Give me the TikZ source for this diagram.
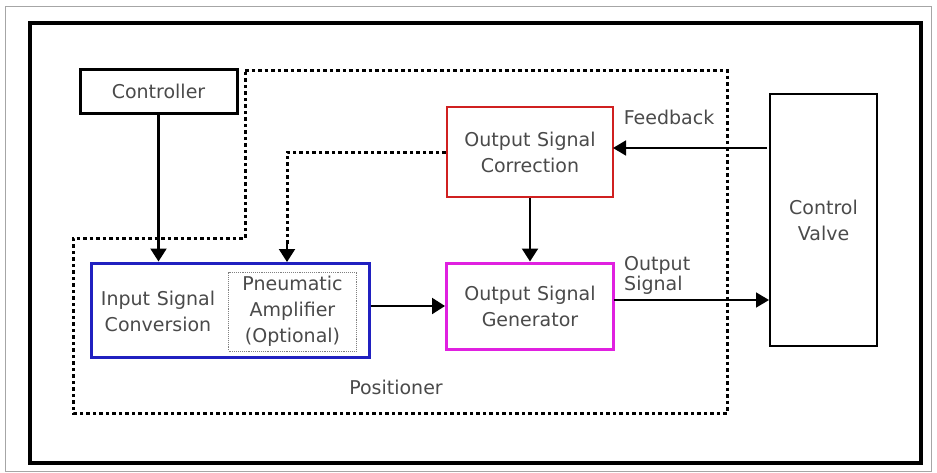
\documentclass[tikz,border=0pt]{standalone}
\usepackage{fontspec}
\setmainfont{DejaVu Sans}
\usetikzlibrary{arrows.meta}
\definecolor{txt}{HTML}{4A4A4A}
\definecolor{bluebox}{HTML}{2020C0}
\definecolor{redbox}{HTML}{D02020}
\definecolor{magbox}{HTML}{E020E0}
\tikzset{
  every node/.style={font=\fontsize{19}{26}\selectfont, text=txt, align=center, inner sep=0pt},
  blk/.style={draw=black, line width=3pt},
  dotline/.style={line width=3pt, dash pattern=on 3.5pt off 3pt},
  arr/.style={line width=2.2pt, -{Triangle[length=13pt,width=16pt]}},
  thinarr/.style={line width=1.6pt, -{Triangle[length=13pt,width=15pt]}},
}
\begin{document}
\begin{tikzpicture}[x=1pt,y=-1pt]
\useasboundingbox (0,0) rectangle (937,472);
\fill[white] (0,0) rectangle (937,472);
% frames
\draw[gray!70, line width=1pt] (5,6) rectangle (931,471);
\draw[black, line width=4pt] (30,23) rectangle (921,463);
% positioner boundary
\draw[dotline] (245,70) -- (727,70) -- (727,413) -- (73,413) -- (73,238) -- (245,238) -- cycle;
\node (pos) at (396,387) {Positioner};
% boxes
\node[blk, minimum width=157, minimum height=44] (ctrl) at (158.5,91) {Controller};
\node[draw=bluebox, line width=3pt, minimum width=278, minimum height=94] (inbox) at (230,310) {};
\node (intext) at (158,311) {Input\hspace{0.35em}Signal\\Conversion};
\node[draw=gray, line width=0.9pt, densely dotted, minimum width=128, minimum height=79] (amp) at (292.5,311.5) {Pneumatic\\Amplifier\\(Optional)};
\node[draw=redbox, line width=2.5pt, minimum width=166, minimum height=90] (corr) at (530,152) {Output\hspace{0.35em}Signal\\Correction};
\node[draw=magbox, line width=3pt, minimum width=167, minimum height=86] (gen) at (530,306) {Output\hspace{0.35em}Signal\\Generator};
\node[blk, line width=2.5pt, minimum width=107, minimum height=252] (valve) at (823.5,220) {Control\\Valve};
% connectors
\draw[arr] (ctrl.south) -- (ctrl.south |- inbox.north);
\coordinate (k) at (287,152);
\coordinate (k2) at (287,262);
\draw[dotline] (corr.west) -- (k) -- (287,246);
\draw[arr] (287,244) -- (k2);
\draw[arr] (inbox.east |- gen.west) -- (gen.west);
\draw[arr] (corr.south) -- (gen.north);
\coordinate (fbS) at (767,148);
\coordinate (fbE) at (613,148);
\draw[thinarr] (fbS) -- (fbE);
\node[anchor=center] (fb) at (669,117) {Feedback};
\coordinate (osS) at (614,300);
\coordinate (osE) at (769,300);
\draw[thinarr] (osS) -- (osE);
\node[align=left, anchor=west, font=\fontsize{19}{20}\selectfont] (os) at (624,275) {Output\\Signal};
\end{tikzpicture}
\end{document}
